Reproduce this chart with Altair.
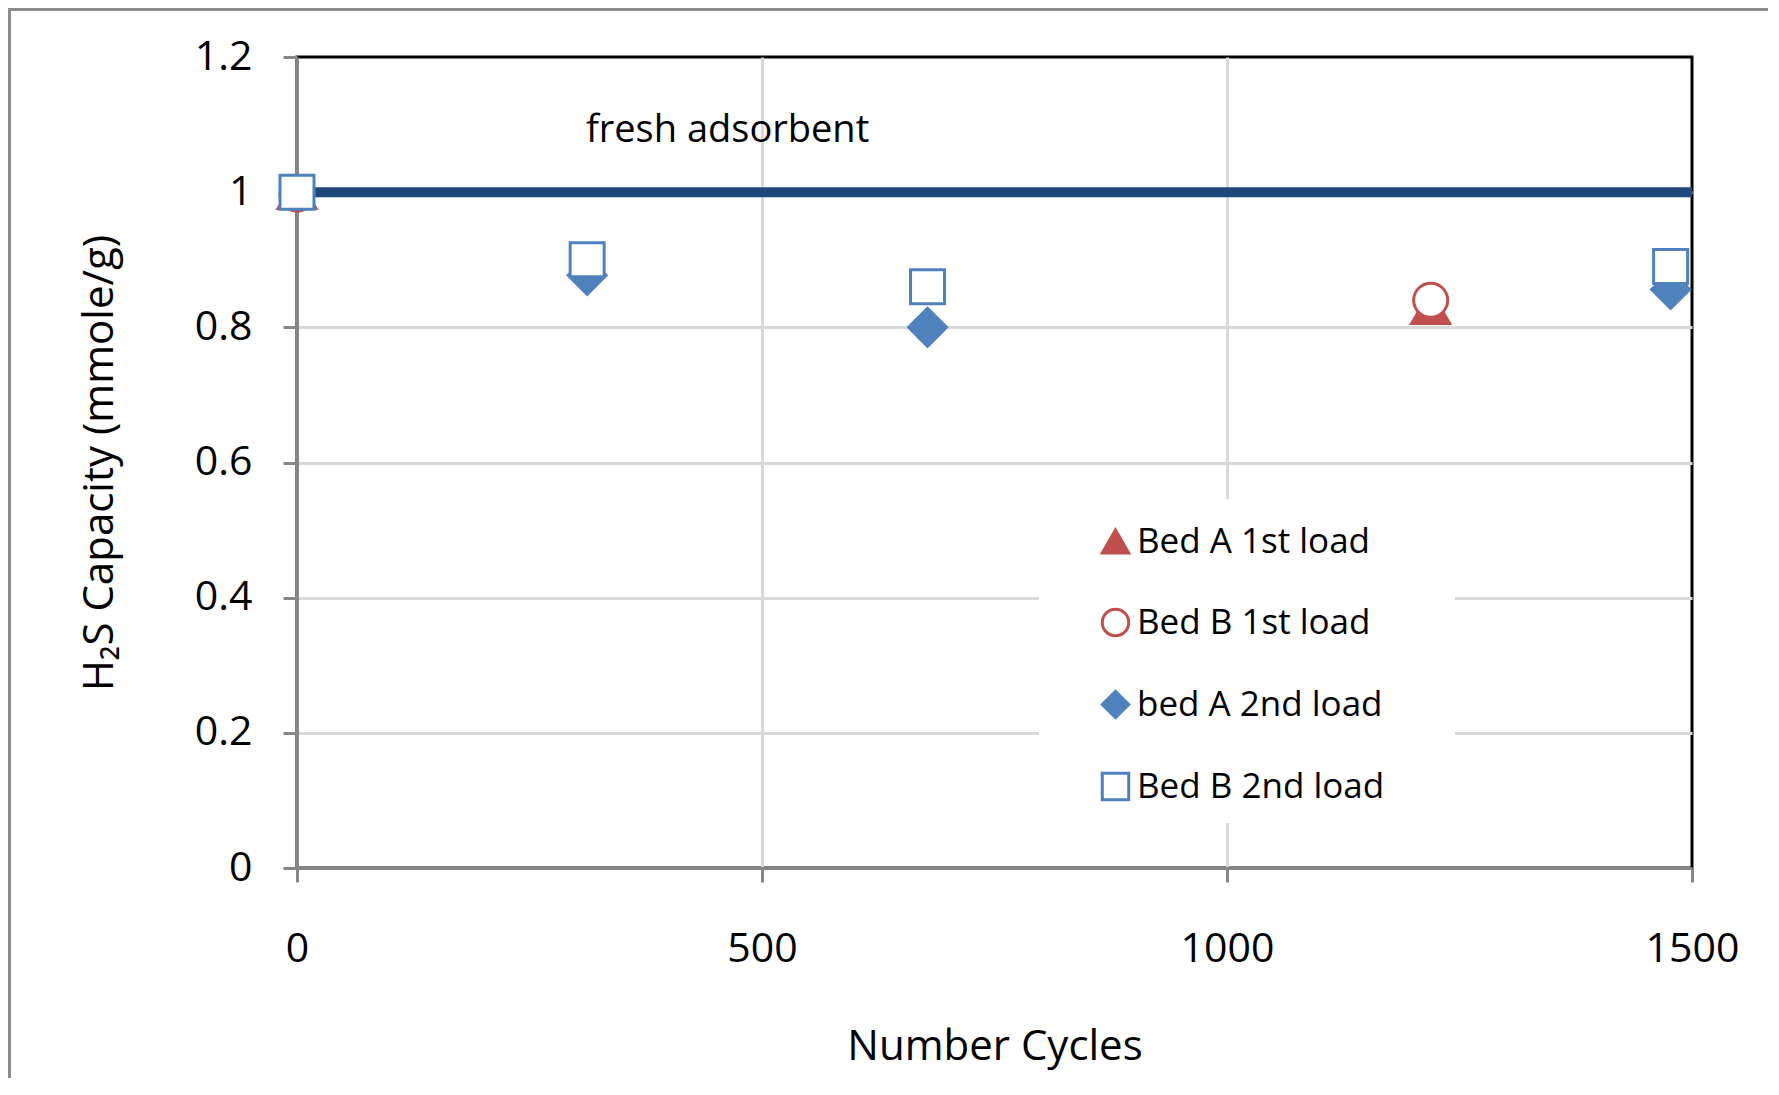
import altair as alt
import pandas as pd

FONT = "Open Sans"

series_names = ["Bed A 1st load", "Bed B 1st load", "bed A 2nd load", "Bed B 2nd load"]
series_shapes = ["triangle-up", "circle", "diamond", "square"]
series_fills = ["#c0504d", "white", "#4f81bd", "white"]
series_strokes = ["#c0504d", "#c0504d", "#4f81bd", "#4f81bd"]

cycles_bedA_1st = [0, 1219]
cap_bedA_1st = [1.0, 0.83]
cycles_bedB_1st = [0, 1219]
cap_bedB_1st = [0.997, 0.84]
cycles_bedA_2nd = [312, 678, 1477]
cap_bedA_2nd = [0.877, 0.80, 0.856]
cycles_bedB_2nd = [0, 312, 678, 1477]
cap_bedB_2nd = [1.0, 0.90, 0.86, 0.89]

fresh_capacity = 1.0
fresh_label = "fresh adsorbent"

x_ticks = [0, 500, 1000, 1500]
y_ticks = [0, 0.2, 0.4, 0.6, 0.8, 1.0, 1.2]


def make_df(groups):
    rows = []
    for name, xs, ys in groups:
        for xv, yv in zip(xs, ys):
            rows.append({"cycles": xv, "capacity": yv, "series": name})
    return pd.DataFrame(rows)


solid_df = make_df([
    (series_names[0], cycles_bedA_1st, cap_bedA_1st),
    (series_names[2], cycles_bedA_2nd, cap_bedA_2nd),
])
hollow_df = make_df([
    (series_names[1], cycles_bedB_1st, cap_bedB_1st),
    (series_names[3], cycles_bedB_2nd, cap_bedB_2nd),
])

fresh_df = pd.DataFrame({"cycles": [0], "cycles_end": [1500], "capacity": [fresh_capacity]})
label_df = pd.DataFrame({"cycles": [463], "capacity": [1.09], "text": [fresh_label]})
one = pd.DataFrame({"a": [0]})

x_axis = alt.Axis(
    values=x_ticks, format="d", title="Number Cycles", labelFlush=False,
    labelPadding=47, titlePadding=57,
    gridOpacity={"condition": {"test": "datum.value == 0 || datum.value == 1500", "value": 0}, "value": 1},
)
y_axis = alt.Axis(
    values=y_ticks, format="~g", title="H₂S Capacity (mmole/g)", labelFlush=False,
    labelPadding=31, titlePadding=73,
    gridOpacity={"condition": {"test": "datum.value == 0 || datum.value == 1.2", "value": 0}, "value": 1},
)
x_enc = alt.X("cycles:Q", scale=alt.Scale(domain=[0, 1500], nice=False), axis=x_axis)
y_enc = alt.Y("capacity:Q", scale=alt.Scale(domain=[0, 1.2], nice=False), axis=y_axis)

frame_color = "#8c8c8c"
frame_left = alt.Chart(one).mark_rule(color=frame_color, strokeWidth=3).encode(
    x=alt.value(-287.5), y=alt.value(-48), y2=alt.value(1025)
)
frame_top = alt.Chart(one).mark_rule(color=frame_color, strokeWidth=3).encode(
    x=alt.value(-289), x2=alt.value(1475), y=alt.value(-47.5)
)

fresh_rule = alt.Chart(fresh_df).mark_rule(color="#1f497d", strokeWidth=10).encode(
    x=x_enc, x2="cycles_end:Q", y=y_enc
)
fresh_text = alt.Chart(label_df).mark_text(
    font=FONT, fontSize=38, color="black", align="center", baseline="middle"
).encode(x=x_enc, y=y_enc, text="text:N")

legend_box = alt.Chart(one).mark_rect(color="white").encode(
    x=alt.value(742), x2=alt.value(1158), y=alt.value(442), y2=alt.value(766)
)

leg = alt.Legend(
    orient="none", legendX=801, legendY=467, title=None, zindex=1,
    labelFont=FONT, labelFontSize=35, labelColor="black", labelLimit=500,
    symbolSize=700, symbolStrokeWidth=3, rowPadding=43, labelOffset=4, padding=0,
)
shape_enc = alt.Shape("series:N", scale=alt.Scale(domain=series_names, range=series_shapes), legend=leg)
fill_enc = alt.Fill("series:N", scale=alt.Scale(domain=series_names, range=series_fills), legend=leg)
stroke_enc = alt.Stroke("series:N", scale=alt.Scale(domain=series_names, range=series_strokes), legend=leg)

solid_points = alt.Chart(solid_df).mark_point(filled=True, opacity=1, strokeWidth=3, size=1444).encode(
    x=x_enc, y=y_enc, shape=shape_enc, fill=fill_enc, stroke=stroke_enc
)
hollow_points = alt.Chart(hollow_df).mark_point(filled=True, opacity=1, strokeWidth=3, size=1156).encode(
    x=x_enc, y=y_enc, shape=shape_enc, fill=fill_enc, stroke=stroke_enc
)

chart = alt.layer(
    frame_left, frame_top, fresh_rule, fresh_text, legend_box, solid_points, hollow_points
).properties(
    width=1395, height=811,
    autosize=alt.AutoSizeParams(type="none"),
    padding={"left": 289, "top": 49, "right": 76, "bottom": 210},
).configure_view(
    stroke="black", strokeWidth=3
).configure_axis(
    labelFont=FONT, titleFont=FONT, labelFontSize=41, titleFontSize=42,
    titleFontWeight="normal", labelColor="black", titleColor="black",
    domainColor="#868686", domainWidth=3, tickColor="#868686", tickWidth=3, tickSize=14,
    gridColor="#d9d9d9", gridWidth=3,
)

chart.save("out.html", embed_options={"renderer": "svg", "actions": False})
